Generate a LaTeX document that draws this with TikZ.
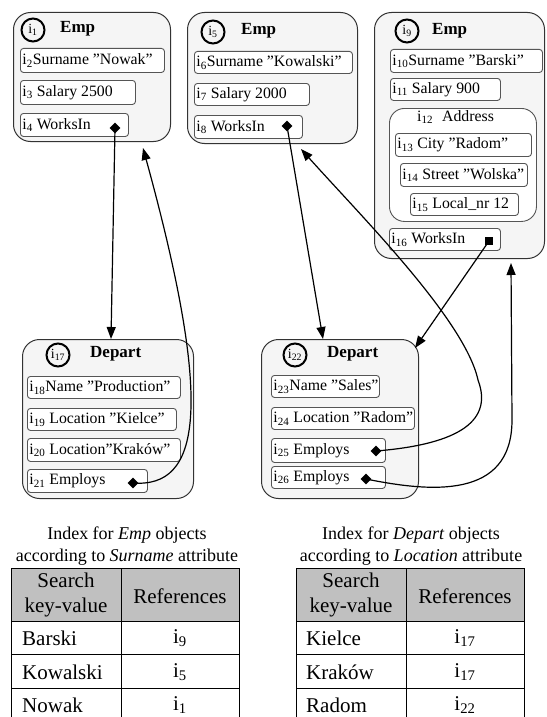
\documentclass[tikz,border=0pt]{standalone}
\usepackage{fontspec}
\setmainfont{Liberation Serif}
\usetikzlibrary{arrows.meta,calc,shapes.geometric}
\newcommand{\idx}[1]{i\textsubscript{#1}}
\definecolor{objfill}{HTML}{F5F5F5}
\definecolor{objline}{HTML}{333333}
\definecolor{attrline}{HTML}{555555}
\definecolor{headfill}{HTML}{C0C0C0}
\newcommand{\abox}[6]{\node[attr, minimum height=#5pt] (#1) at (#2,#3) {\makebox[\dimexpr#4pt-4pt\relax][l]{#6}};}
\newcommand{\obox}[5]{\node[obj, minimum width=#4pt, minimum height=#5pt] (#1) at (#2,#3) {};}
\begin{document}
\begin{tikzpicture}[x=1pt,y=-1pt,
  obj/.style={draw=objline, fill=objfill, rounded corners=17pt, line width=1pt, anchor=north west, inner sep=0pt},
  attr/.style={draw=attrline, fill=white, rounded corners=3pt, line width=0.9pt, anchor=north west, inner sep=2pt, font=\fontsize{15.8}{18}\selectfont},
  idc/.style={circle, draw=black, line width=2pt, minimum size=23pt, inner sep=0pt, font=\fontsize{14}{15}\selectfont},
  ttl/.style={anchor=west, font=\fontsize{17}{19}\selectfont\bfseries, inner sep=0pt},
  dia/.style={diamond, fill=black, inner sep=0pt, minimum size=11pt},
  sq/.style={rectangle, fill=black, inner sep=0pt, minimum size=8pt},
  arr/.style={line width=1.2pt, -{Triangle[length=12pt,width=9pt]}},
  tbl/.style={line width=0.9pt, draw=black},
  captxt/.style={font=\fontsize{18}{22}\selectfont, align=center, inner sep=0pt},
  cell/.style={font=\fontsize{21}{25}\selectfont, inner sep=0pt, align=center}
]
\useasboundingbox (0,0) rectangle (546,717);

% ---------- Emp objects ----------
\obox{e1}{13}{12}{157}{129}
\node[idc] (c1) at (33,30) {\idx{1}};
\node[ttl] (t1) at (60,29) {Emp};
\abox{a2}{20}{48}{144}{24}{\idx{2}Surname "Nowak"}
\abox{a3}{20}{80}{115}{24}{\idx{3} Salary 2500}
\abox{a4}{20}{113}{108}{23}{\idx{4} WorksIn}
\node[dia] (d4) at (115,128) {};

\obox{e2}{187}{12}{170}{131}
\node[idc] (c5) at (213,32) {\idx{5}};
\node[ttl] (t5) at (241,31) {Emp};
\abox{a6}{194}{51}{158}{22}{\idx{6}Surname "Kowalski"}
\abox{a7}{194}{83}{115}{22}{\idx{7} Salary 2000}
\abox{a8}{194}{115}{108}{23}{\idx{8} WorksIn}
\node[dia] (d8) at (287,126) {};

\obox{e3}{374}{12}{170}{246}
\node[idc] (c9) at (407,31) {\idx{9}};
\node[ttl] (t9) at (432,31) {Emp};
\abox{a10}{390}{49}{152}{23}{\idx{10}Surname "Barski"}
\abox{a11}{390}{78}{110}{22}{\idx{11} Salary 900}
\node[attr, rounded corners=15pt, minimum width=147pt, minimum height=113pt] (a12) at (389,108) {};
\node[anchor=west, inner sep=0pt, font=\fontsize{15.8}{18}\selectfont] (l12) at (417,117) {\idx{12}\hspace{9pt}Address};
\abox{a13}{395}{133}{136}{23}{\idx{13} City "Radom"}
\abox{a14}{400}{163}{127}{23}{\idx{14} Street "Wolska"}
\abox{a15}{410}{193}{108}{22}{\idx{15} Local\_nr 12}
\abox{a16}{389}{228}{111}{22}{\idx{16} WorksIn}
\node[sq] (d16) at (489,241) {};

% ---------- Depart objects ----------
\obox{p1}{22}{339}{171}{159}
\node[idc] (c17) at (58,355) {\idx{17}};
\node[ttl] (t17) at (90,354) {Depart};
\abox{a18}{27}{376}{153}{22}{\idx{18}Name "Production"}
\abox{a19}{27}{408}{149}{22}{\idx{19} Location "Kielce"}
\abox{a20}{27}{438}{153}{23}{\idx{20} Location"Kraków"}
\abox{a21}{27}{469}{120}{23}{\idx{21} Employs}
\node[dia] (d21) at (133,483) {};

\obox{p2}{261}{339}{157}{159}
\node[idc] (c22) at (295,355) {\idx{22}};
\node[ttl] (t22) at (327,354) {Depart};
\abox{a23}{271}{375}{108}{22}{\idx{23}Name "Sales"}
\abox{a24}{271}{407}{143}{22}{\idx{24} Location "Radom"}
\abox{a25}{271}{438}{114}{24}{\idx{25} Employs}
\abox{a26}{271}{466}{114}{22}{\idx{26} Employs}
\node[dia] (d25) at (376,451) {};
\node[dia] (d26) at (366,479) {};

% ---------- connectors ----------
\draw[arr] (d4.center) -- ($(p1.north west)+(89,0)$);
\draw[arr] (d21.center) .. controls (200,488) and (215,410) .. ($(e1.south east)+(-28,6)$);
\draw[arr] (d8.center) -- ($(p2.north west)+(62,0)$);
\draw[arr] (d25.center) .. controls (450,445) and (495,425) .. (478,380)
  .. controls (465,320) and (360,215) .. ($(e2.south east)+(-57,5)$);
\draw[arr] (d16.center) -- ($(p2.north east)+(-4,9)$);
\draw[arr] (d26.center) .. controls (430,492) and (512,500) .. (512,420)
  -- ($(e3.south east)+(-34,4)$);

% ---------- index tables ----------
\node[captxt] (cap1) at (127,546) {Index for \emph{Emp} objects\\according to \emph{Surname} attribute};
\node[captxt] (cap2) at (411,546) {Index for \emph{Depart} objects\\according to \emph{Location} attribute};

\fill[headfill] (11,568) rectangle (239,621);
\draw[tbl] (11,568) rectangle (239,721);
\draw[tbl] (11,621) -- (239,621) (11,654) -- (239,654) (11,688) -- (239,688) (121,568) -- (121,721);
\node[cell] (h1a) at (66,595) {Search\\key-value};
\node[cell] (h1b) at (180,596) {References};
\node[cell, anchor=west] (r1a) at (22,638) {Barski};
\node[cell] (r1b) at (180,638) {\idx{9}};
\node[cell, anchor=west] (r2a) at (22,672) {Kowalski};
\node[cell] (r2b) at (180,672) {\idx{5}};
\node[cell, anchor=west] (r3a) at (22,705) {Nowak};
\node[cell] (r3b) at (180,705) {\idx{1}};

\fill[headfill] (296,568) rectangle (524,621);
\draw[tbl] (296,568) rectangle (524,721);
\draw[tbl] (296,621) -- (524,621) (296,654) -- (524,654) (296,688) -- (524,688) (406,568) -- (406,721);
\node[cell] (h2a) at (351,595) {Search\\key-value};
\node[cell] (h2b) at (465,596) {References};
\node[cell, anchor=west] (s1a) at (306,638) {Kielce};
\node[cell] (s1b) at (465,638) {\idx{17}};
\node[cell, anchor=west] (s2a) at (306,672) {Kraków};
\node[cell] (s2b) at (465,672) {\idx{17}};
\node[cell, anchor=west] (s3a) at (306,705) {Radom};
\node[cell] (s3b) at (465,705) {\idx{22}};
\end{tikzpicture}
\end{document}
